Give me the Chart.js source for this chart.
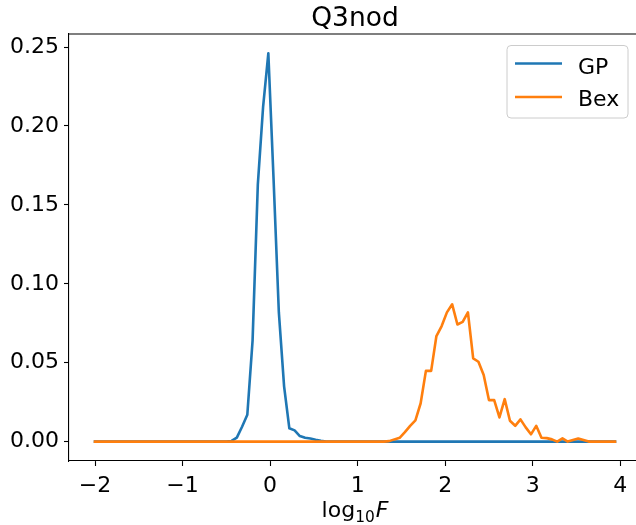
<!DOCTYPE html>
<html>
<head>
<meta charset="utf-8">
<script src="https://cdn.jsdelivr.net/npm/chart.js@4/dist/chart.umd.min.js"></script>
<style>
  html, body { margin: 0; padding: 0; background: #fff; overflow: hidden; }
  #wrap { width: 660px; height: 525px; }
</style>
</head>
<body>
<div id="wrap"><canvas id="c" width="660" height="525"></canvas></div>
<script>
// ---- data ----
const TITLE = 'Q3nod';
const SERIES_NAMES = ['GP', 'Bex'];
const BIN_X = [
  -2.00,-1.94,-1.88,-1.82,-1.76,-1.70,-1.64,-1.58,-1.52,-1.46,
  -1.40,-1.34,-1.28,-1.22,-1.16,-1.10,-1.04,-0.98,-0.92,-0.86,
  -0.80,-0.74,-0.68,-0.62,-0.56,-0.50,-0.44,-0.38,-0.32,-0.26,
  -0.20,-0.14,-0.08,-0.02,0.04,0.10,0.16,0.22,0.28,0.34,
  0.40,0.46,0.52,0.58,0.64,0.70,0.76,0.82,0.88,0.94,
  1.00,1.06,1.12,1.18,1.24,1.30,1.36,1.42,1.48,1.54,
  1.60,1.66,1.72,1.78,1.84,1.90,1.96,2.02,2.08,2.14,
  2.20,2.26,2.32,2.38,2.44,2.50,2.56,2.62,2.68,2.74,
  2.80,2.86,2.92,2.98,3.04,3.10,3.16,3.22,3.28,3.34,
  3.40,3.46,3.52,3.58,3.64,3.70,3.76,3.82,3.88,3.94
];
const GP_VALUES = [
  0,0,0,0,0,0,0,0,0,0,
  0,0,0,0,0,0,0,0,0,0,
  0,0,0,0,0,0,0.0004,0.0025,0.0094,0.017,
  0.064,0.163,0.212,0.246,0.166,0.082,0.035,0.0084,0.0071,0.0035,
  0.0024,0.002,0.0012,0.0005,0,0,0,0,0,0,
  0,0,0,0,0,0,0,0,0,0,
  0,0,0,0,0,0,0,0,0,0,
  0,0,0,0,0,0,0,0,0,0,
  0,0,0,0,0,0,0,0,0,0,
  0,0,0,0,0,0,0,0,0,0
];
const BEX_VALUES = [
  0,0,0,0,0,0,0,0,0,0,
  0,0,0,0,0,0,0,0,0,0,
  0,0,0,0,0,0,0,0,0,0,
  0,0,0,0,0,0,0,0,0,0,
  0,0,0,0,0,0,0,0,0,0,
  0,0,0,0,0,0,0.0003,0.0014,0.0024,0.006,
  0.010,0.0134,0.0243,0.0448,0.0448,0.0669,0.0732,0.0819,0.0870,0.0742,
  0.0759,0.0819,0.0527,0.0506,0.0422,0.0263,0.0263,0.0153,0.0269,0.0132,
  0.0100,0.0141,0.0090,0.0046,0.0100,0.0024,0.0022,0.0014,0,0.002,
  0,0.001,0.002,0.001,0,0,0,0,0,0
];
const X_TICKS = [-2, -1, 0, 1, 2, 3, 4];
const Y_TICKS = [0, 0.05, 0.10, 0.15, 0.20, 0.25];
const X_LABEL = { base: 'log', sub: '10', var: 'F' };

// ---- styling ----
const FONT = 'DejaVu Sans';
const COLORS = ['#1f77b4', '#ff7f0e'];

const toPts = (xs, ys) => xs.map((x, i) => ({ x: x, y: ys[i] }));

const decorPlugin = {
  id: 'decor',
  afterDraw(chart) {
    const ctx = chart.ctx;
    const a = chart.chartArea;
    ctx.save();
    // top spine
    ctx.strokeStyle = '#000';
    ctx.lineWidth = 1.1;
    ctx.beginPath();
    ctx.moveTo(a.left, a.top);
    ctx.lineTo(a.right + 1, a.top);
    ctx.stroke();
    // title
    const cx = (a.left + a.right) / 2;
    ctx.fillStyle = '#000';
    ctx.textAlign = 'center';
    ctx.textBaseline = 'alphabetic';
    ctx.font = '26.5px "' + FONT + '"';
    ctx.fillText(TITLE, cx, 26);
    // x label: log_10 F
    ctx.textAlign = 'left';
    const fMain = '22px "' + FONT + '"';
    const fSub = '15.4px "' + FONT + '"';
    const fIt = 'oblique 22px "' + FONT + '"';
    ctx.font = fMain; const w1 = ctx.measureText(X_LABEL.base).width;
    ctx.font = fSub;  const w2 = ctx.measureText(X_LABEL.sub).width;
    ctx.font = fIt;   const w3 = ctx.measureText(X_LABEL.var).width;
    const total = w1 + w2 + w3 + 1;
    let x0 = cx - total / 2;
    const base = 517;
    ctx.font = fMain; ctx.fillText(X_LABEL.base, x0, base);
    ctx.font = fSub;  ctx.fillText(X_LABEL.sub, x0 + w1, base + 4.5);
    ctx.font = fIt;   ctx.fillText(X_LABEL.var, x0 + w1 + w2 + 1, base);
    // legend
    const lx = 507, ly = 45.5, lw = 121, lh = 72.5, r = 4;
    ctx.beginPath();
    ctx.moveTo(lx + r, ly);
    ctx.lineTo(lx + lw - r, ly);
    ctx.quadraticCurveTo(lx + lw, ly, lx + lw, ly + r);
    ctx.lineTo(lx + lw, ly + lh - r);
    ctx.quadraticCurveTo(lx + lw, ly + lh, lx + lw - r, ly + lh);
    ctx.lineTo(lx + r, ly + lh);
    ctx.quadraticCurveTo(lx, ly + lh, lx, ly + lh - r);
    ctx.lineTo(lx, ly + r);
    ctx.quadraticCurveTo(lx, ly, lx + r, ly);
    ctx.closePath();
    ctx.fillStyle = 'rgba(255,255,255,0.8)';
    ctx.fill();
    ctx.strokeStyle = '#cccccc';
    ctx.lineWidth = 1;
    ctx.stroke();
    const rows = [{ hy: 63.5, ty: 73.5 }, { hy: 97, ty: 105.5 }];
    chart.data.datasets.forEach((ds, i) => {
      ctx.strokeStyle = ds.borderColor;
      ctx.lineWidth = 2.6;
      ctx.lineCap = 'butt';
      ctx.beginPath();
      ctx.moveTo(515, rows[i].hy);
      ctx.lineTo(562, rows[i].hy);
      ctx.stroke();
      ctx.fillStyle = '#000';
      ctx.font = '22px "' + FONT + '"';
      ctx.textAlign = 'left';
      ctx.fillText(ds.label, 578, rows[i].ty);
    });
    ctx.restore();
  }
};

new Chart(document.getElementById('c'), {
  type: 'line',
  data: {
    datasets: [
      { label: SERIES_NAMES[0], data: toPts(BIN_X, GP_VALUES), borderColor: COLORS[0],
        backgroundColor: COLORS[0], order: 1 },
      { label: SERIES_NAMES[1], data: toPts(BIN_X, BEX_VALUES), borderColor: COLORS[1],
        backgroundColor: COLORS[1], order: 0 }
    ]
  },
  options: {
    responsive: false,
    animation: false,
    devicePixelRatio: 1,
    layout: { padding: { top: 34, right: 19, bottom: 0, left: 0 } },
    elements: {
      point: { radius: 0, hoverRadius: 0 },
      line: { borderWidth: 2.6, tension: 0, borderCapStyle: 'square', borderJoinStyle: 'round', fill: false }
    },
    plugins: {
      legend: { display: false },
      title: { display: false },
      tooltip: { enabled: false }
    },
    scales: {
      x: {
        type: 'linear',
        min: -2.297,
        max: 4.237,
        afterBuildTicks: s => { s.ticks = X_TICKS.map(v => ({ value: v })); },
        afterFit: s => { s.height = 64; },
        ticks: {
          autoSkip: false, maxRotation: 0, padding: 7, color: '#000',
          font: { family: FONT, size: 22 },
          callback: v => (v < 0 ? '\u2212' + Math.abs(v) : String(v))
        },
        grid: { display: true, drawOnChartArea: false, drawTicks: true, tickLength: 5, tickWidth: 1.1, tickColor: '#000' },
        border: { display: true, color: '#000', width: 1.1 }
      },
      y: {
        type: 'linear',
        min: -0.0123,
        max: 0.2583,
        afterBuildTicks: s => { s.ticks = Y_TICKS.map(v => ({ value: v })); },
        afterFit: s => { s.width = 69; },
        ticks: {
          autoSkip: false, padding: 5, color: '#000',
          font: { family: FONT, size: 22 },
          callback: v => Number(v).toFixed(2)
        },
        grid: { display: true, drawOnChartArea: false, drawTicks: true, tickLength: 5, tickWidth: 1.1, tickColor: '#000' },
        border: { display: true, color: '#000', width: 1.1 }
      }
    }
  },
  plugins: [decorPlugin]
});
</script>
</body>
</html>
